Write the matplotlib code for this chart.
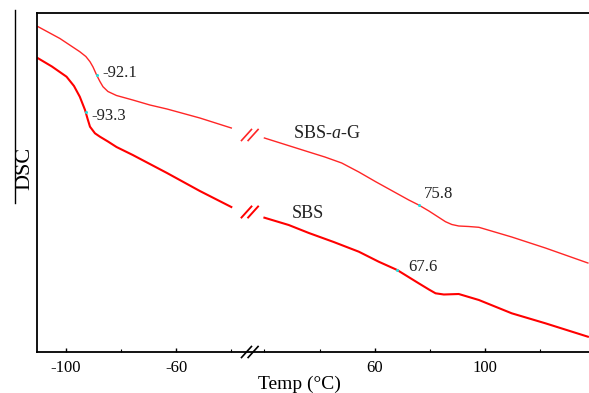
import numpy as np
import matplotlib
matplotlib.use("Agg")
import matplotlib.pyplot as plt
from matplotlib.lines import Line2D

plt.rcParams['font.family'] = ['Liberation Serif', 'DejaVu Serif']
plt.rcParams['mathtext.fontset'] = 'custom'
plt.rcParams['mathtext.rm'] = 'Liberation Serif'
plt.rcParams['mathtext.it'] = 'Liberation Serif:italic'

# temperature gap hidden by the axis break (about -34 .. 14 C)
GAP = 48.0

# SBS-a-G curve (upper), two segments either side of the break
sbsag_t_left = [-110, -102.1, -94.9, -92.7, -91.2, -90.1, -88.8, -87.6, -86.5, -84.7,
                -81.6, -75.7, -69.5, -63.3, -51.4, -40]
sbsag_y_left = [325.3, 313.5, 300.3, 295.5, 290.3, 285, 277, 270.5, 265.3, 260.5,
                256.5, 252, 247, 243, 234, 224]
sbsag_t_right = [20, 36.1, 41.9, 48.0, 54.2, 60.3, 72.3, 75.9, 79.6, 85.6, 87.9, 90.4,
                 94.0, 97.7, 109.6, 121.8, 137.2]
sbsag_y_right = [214, 200, 195, 189, 180, 170.3, 152, 147, 141, 130.3, 127.5, 126,
                 125.5, 124.7, 115, 104, 89]

# SBS curve (lower)
sbs_t_left = [-110, -105, -99.7, -97, -94.9, -93.0, -92.0, -91.2, -89.4, -87.6, -84.7,
              -81.6, -75.7, -69.5, -63.3, -51.4, -40]
sbs_y_left = [293.7, 285.5, 275.3, 266, 255.3, 242, 232.5, 225.3, 218.7, 215.3, 210.5,
              205, 197, 188, 179, 161, 145]
sbs_t_right = [20, 28.8, 36.1, 45.1, 54.2, 61.4, 68.1, 75.9, 79.6, 82.0, 85.0, 90.4,
               97.7, 109.6, 121.8, 137.2]
sbs_y_right = [134.3, 127, 119, 110, 100.3, 90.3, 82, 68.7, 62.5, 58.7, 57.5, 58,
               52, 38.7, 28.7, 15.3]

# glass transition marks
tg_t = [-88.8, -92.7, 75.9, 68.1]
tg_y = [277, 240, 147, 82]
tg_labels = ['-92.1', '-93.3', '75.8', '67.6']
tg_offsets = [(6, 2), (6, -4), (5, 11), (11, 3)]   # pixels

major_ticks = [-100, -60, 60, 100]
minor_ticks = [-80, -40, 20, 40, 80, 120]


def to_axis(t):
    t = np.asarray(t, dtype=float)
    return np.where(t > 0, t - GAP, t)


fig = plt.figure(figsize=(5.89, 3.93), dpi=100)
ax = fig.add_axes([37 / 589, 1 - 352 / 393, 1 - 37 / 589, (352 - 12.5) / 393])

up_col = '#ff2626'
lo_col = '#ff0000'
ax.plot(to_axis(sbsag_t_left), sbsag_y_left, color=up_col, lw=1.0)
ax.plot(to_axis(sbsag_t_right), sbsag_y_right, color=up_col, lw=1.0)
ax.plot(to_axis(sbs_t_left), sbs_y_left, color=lo_col, lw=1.5)
ax.plot(to_axis(sbs_t_right), sbs_y_right, color=lo_col, lw=1.5)

ax.plot(to_axis(tg_t), tg_y, ls='none', marker='o', ms=2.2, color='#22dddd', mec='none')
for t, y, lab, off in zip(tg_t, tg_y, tg_labels, tg_offsets):
    ax.annotate(lab, (float(to_axis(t)), y), xytext=off, textcoords='offset pixels',
                ha='left', va='center', fontsize=12, color='#222222')

ax.text(-17.6, 218, 'SBS-$\\mathit{a}$-G', fontsize=13, ha='left', va='center', color='#222222')
ax.text(-18.0, 138, 'SBS', fontsize=13, ha='left', va='center', color='#222222')

# break marks
bx = -33.3
for yc, col, lw in [(217, up_col, 1.2), (140, lo_col, 1.4), (0, 'black', 1.2)]:
    for dx in (-1.2, 1.2):
        ax.plot([bx + dx - 1.8, bx + dx + 1.8], [yc - 5.5, yc + 5.5], color=col, lw=lw,
                clip_on=False, zorder=5)

ax.set_xlim(-110.4, 89.6)
ax.set_ylim(0, 339.5)
ax.set_xticks(to_axis(major_ticks))
ax.set_xticklabels([str(v) for v in major_ticks], fontsize=12)
ax.set_xticks(to_axis(minor_ticks), minor=True)
ax.set_yticks([])
ax.tick_params(axis='x', which='major', direction='in', length=3, width=1, pad=6)
ax.tick_params(axis='x', which='minor', direction='in', length=2, width=0.8)
ax.spines['right'].set_visible(False)
for s in ('top', 'left', 'bottom'):
    ax.spines[s].set_linewidth(1.3)

fig.text(299.5 / 589, 1 - 384 / 393, 'Temp (°C)', fontsize=14, ha='center', va='center')
fig.text(25 / 589, 1 - 168 / 393, 'DSC', fontsize=16, rotation=90, ha='center', va='center')
fig.add_artist(Line2D([15 / 589, 15 / 589], [1 - 10 / 393, 1 - 203 / 393],
                      transform=fig.transFigure, color='black', lw=1.0))

fig.savefig('out.png', dpi=100)
